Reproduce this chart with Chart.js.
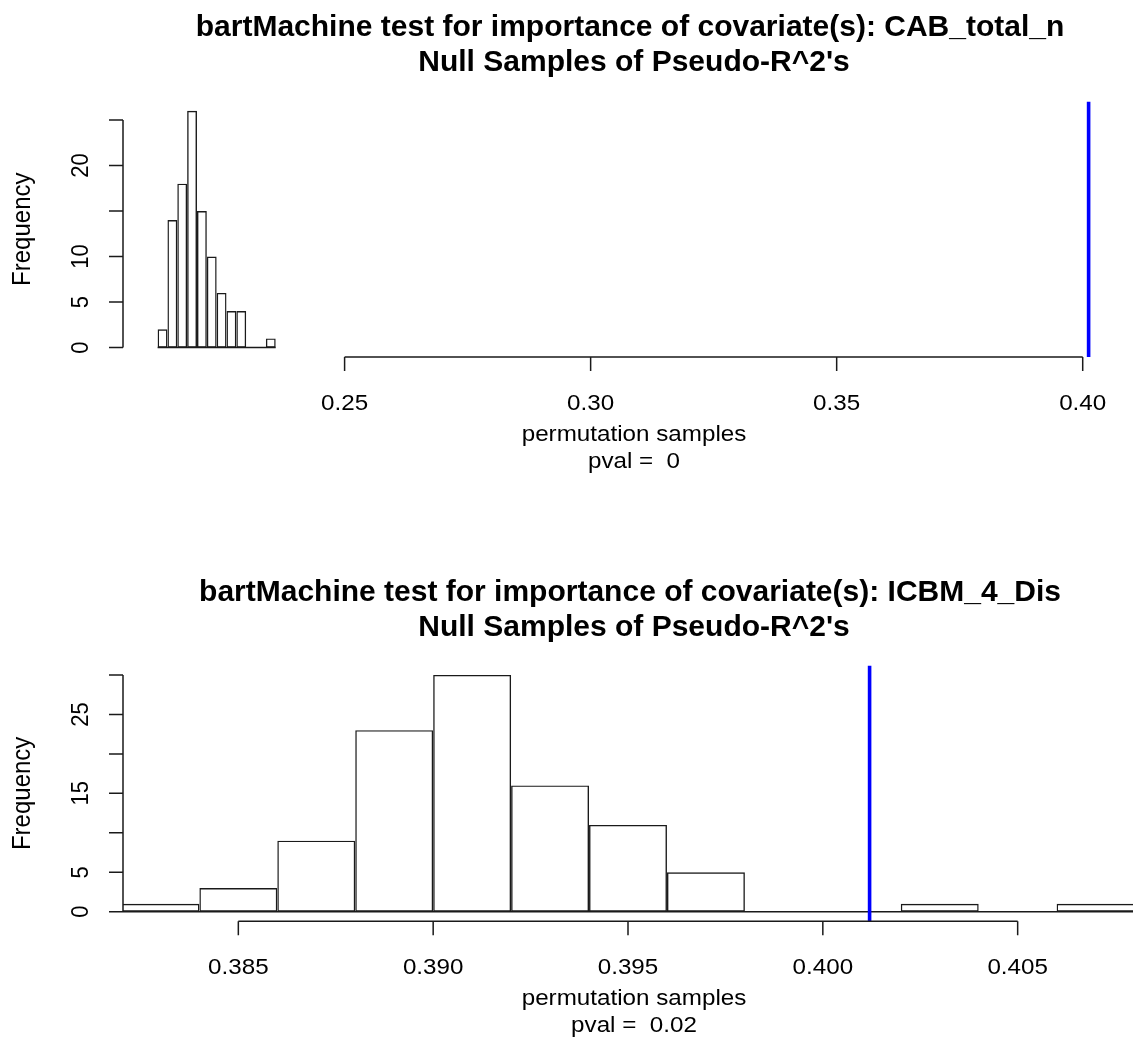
<!DOCTYPE html>
<html>
<head>
<meta charset="utf-8">
<script src="https://cdn.jsdelivr.net/npm/chart.js@4.4.1/dist/chart.umd.min.js"></script>
<style>
  html, body { margin: 0; padding: 0; background: #fff; }
  #wrap { position: relative; width: 1133px; height: 1041px; overflow: hidden; }
  .panel { position: absolute; left: 0; width: 1133px; }
</style>
</head>
<body>
<div id="wrap">
  <div class="panel" style="top:0;height:520px"><canvas id="c1" width="1133" height="520"></canvas></div>
  <div class="panel" style="top:520px;height:521px"><canvas id="c2" width="1133" height="521"></canvas></div>
</div>
<script>
// panel 1: CAB_total_n
const breaks1 = [0.212, 0.214, 0.216, 0.218, 0.220, 0.222, 0.224, 0.226, 0.228, 0.230, 0.232, 0.234, 0.236];
const counts1 = [2, 14, 18, 26, 15, 10, 6, 4, 4, 0, 0, 1];
const xTicks1 = [0.25, 0.30, 0.35, 0.40];
const xLabels1 = ['0.25', '0.30', '0.35', '0.40'];
const yTicks1 = [0, 5, 10, 15, 20, 25];
const yLabels1 = ['0', '5', '10', '', '20', ''];
const observed1 = 0.4012;
const title1 = ['bartMachine test for importance of covariate(s): CAB_total_n', "Null Samples of Pseudo-R^2's"];
const pval1 = 'pval =  0';

// panel 2: ICBM_4_Dis
const breaks2 = [0.382, 0.384, 0.386, 0.388, 0.390, 0.392, 0.394, 0.396, 0.398, 0.400, 0.402, 0.404, 0.406, 0.408];
const counts2 = [1, 3, 9, 23, 30, 16, 11, 5, 0, 0, 1, 0, 1];
const xTicks2 = [0.385, 0.390, 0.395, 0.400, 0.405];
const xLabels2 = ['0.385', '0.390', '0.395', '0.400', '0.405'];
const yTicks2 = [0, 5, 10, 15, 20, 25, 30];
const yLabels2 = ['0', '5', '', '15', '', '25', ''];
const observed2 = 0.4012;
const title2 = ['bartMachine test for importance of covariate(s): ICBM_4_Dis', "Null Samples of Pseudo-R^2's"];
const pval2 = 'pval =  0.02';

const FONT = '"Liberation Sans", Arial, sans-serif';
const STRETCH = 1.1;

function txt(ctx, s, x, y, font, rotate, sx, base) {
  ctx.save();
  ctx.translate(x, y);
  ctx.scale(sx, 1);
  if (rotate) ctx.rotate(-Math.PI / 2);
  ctx.font = font;
  ctx.textAlign = 'center';
  ctx.textBaseline = base || 'middle';
  ctx.fillText(s, 0, 0);
  ctx.restore();
}

// R-style axes and titles, drawn from the chart's own scales
const rAxes = {
  id: 'rAxes',
  afterDraw(chart, args, o) {
    const { ctx, chartArea: ca } = chart;
    const x = chart.scales.x, y = chart.scales.y;
    ctx.save();
    ctx.strokeStyle = '#1a1a1a';
    ctx.fillStyle = '#000';
    ctx.lineWidth = 1.5;

    const ay = ca.bottom;
    ctx.beginPath();
    ctx.moveTo(x.getPixelForValue(o.xTicks[0]), ay);
    ctx.lineTo(x.getPixelForValue(o.xTicks[o.xTicks.length - 1]), ay);
    o.xTicks.forEach(v => {
      const px = x.getPixelForValue(v);
      ctx.moveTo(px, ay);
      ctx.lineTo(px, ay + 14);
    });
    const axx = ca.left;
    ctx.moveTo(axx, y.getPixelForValue(o.yTicks[0]));
    ctx.lineTo(axx, y.getPixelForValue(o.yTicks[o.yTicks.length - 1]));
    o.yTicks.forEach(v => {
      const py = y.getPixelForValue(v);
      ctx.moveTo(axx, py);
      ctx.lineTo(axx - 14, py);
    });
    ctx.stroke();

    const f = '22px ' + FONT;
    o.xTicks.forEach((v, i) => txt(ctx, o.xLabels[i], x.getPixelForValue(v), ay + 47, f, false, STRETCH));
    o.yTicks.forEach((v, i) => {
      if (o.yLabels[i]) txt(ctx, o.yLabels[i], 81, y.getPixelForValue(v), f, true, STRETCH);
    });
    txt(ctx, 'Frequency', 23, (ca.top + ca.bottom) / 2, '24px ' + FONT, true, 1.05);
    txt(ctx, 'permutation samples', 634, ay + 78, f, false, STRETCH);
    txt(ctx, o.pval, 634, ay + 105, f, false, STRETCH);

    const tf = 'bold 30px ' + FONT;
    txt(ctx, o.title[0], 630, ca.top - 65, tf, false, 1, 'alphabetic');
    txt(ctx, o.title[1], 634, ca.top - 30, tf, false, 1, 'alphabetic');
    ctx.restore();
  }
};

function histPanel(id, breaks, counts, observed, xmin, xmax, ymin, ymax, pad, axes) {
  const bars = counts.map((c, i) => ({ x: (breaks[i] + breaks[i + 1]) / 2, y: c }));
  return new Chart(document.getElementById(id), {
    type: 'bar',
    data: {
      datasets: [
        {
          type: 'line',
          data: [{ x: observed, y: ymin }, { x: observed, y: ymax }],
          borderColor: '#0000ff',
          borderWidth: 3.6,
          pointRadius: 0
        },
        {
          type: 'line',
          data: [{ x: breaks[0], y: 0 }, { x: breaks[breaks.length - 1], y: 0 }],
          borderColor: '#1a1a1a',
          borderWidth: 1.5,
          pointRadius: 0
        },
        {
          type: 'bar',
          data: bars,
          backgroundColor: 'rgba(255,255,255,0)',
          borderColor: '#1a1a1a',
          borderWidth: 1.4,
          borderSkipped: false,
          inflateAmount: 0,
          barPercentage: 1.0,
          categoryPercentage: 1.0
        }
      ]
    },
    options: {
      responsive: false,
      animation: false,
      layout: { padding: pad },
      plugins: {
        legend: { display: false },
        tooltip: { enabled: false },
        rAxes: axes
      },
      scales: {
        x: { type: 'linear', min: xmin, max: xmax, offset: false, display: false },
        y: { min: ymin, max: ymax, display: false }
      }
    },
    plugins: [rAxes]
  });
}

histPanel('c1', breaks1, counts1, observed1, 0.204966, 0.410221, -1.04, 27.04,
  { left: 123, right: 0, top: 101.4, bottom: 163 },
  { xTicks: xTicks1, xLabels: xLabels1, yTicks: yTicks1, yLabels: yLabels1, title: title1, pval: pval1 });

histPanel('c2', breaks2, counts2, observed2, 0.38204, 0.40796, -1.2, 31.2,
  { left: 123, right: 0, top: 145.5, bottom: 119.8 },
  { xTicks: xTicks2, xLabels: xLabels2, yTicks: yTicks2, yLabels: yLabels2, title: title2, pval: pval2 });
</script>
</body>
</html>
